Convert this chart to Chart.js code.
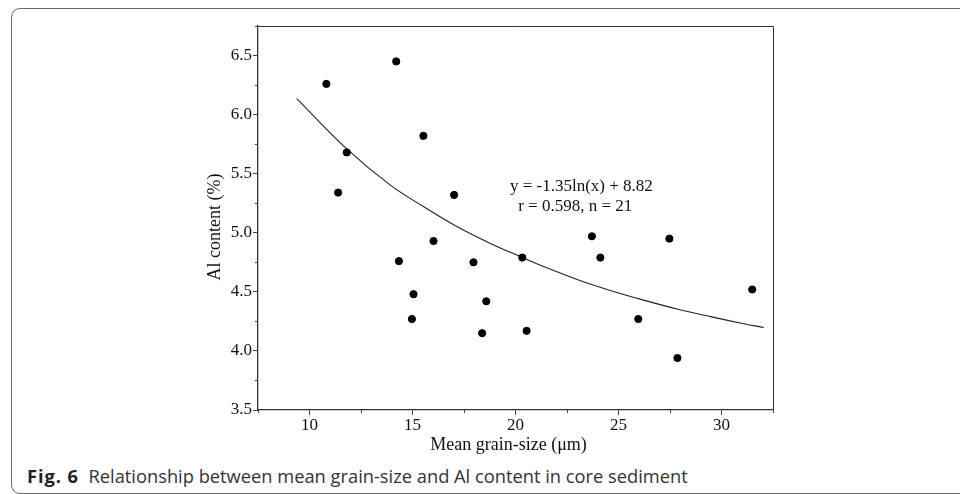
<!DOCTYPE html>
<html>
<head>
<meta charset="utf-8">
<script src="https://cdn.jsdelivr.net/npm/chart.js@4"></script>
<style>
  html, body { margin: 0; padding: 0; background: #fff; }
  body { width: 960px; height: 494px; position: relative; overflow: hidden; }
  #frame {
    position: absolute; left: 11px; top: 8px; width: 1000px; height: 486px;
    border: 1.5px solid #6a6a6a; border-radius: 9px; box-sizing: border-box;
  }
  #wrap { position: absolute; left: 180px; top: 0; width: 780px; height: 460px; }
  #caption {
    position: absolute; left: 27px; top: 463px; white-space: nowrap;
    font-family: "Open Sans", sans-serif; font-size: 18.3px; color: #333;
  }
  #caption b { color: #222; letter-spacing: 0.9px; margin-right: 5px; }
</style>
</head>
<body>
<div id="frame"></div>
<div id="wrap"><canvas id="al-graph"></canvas></div>
<div id="caption"><b>Fig. 6</b> Relationship between mean grain-size and Al content in core sediment</div>
<script>
const grainSize = [10.82, 14.21, 11.81, 11.39, 15.53, 17.02, 16.02, 14.34, 17.96, 15.05, 14.97, 18.38, 18.58, 20.33, 20.54, 24.12, 25.96, 27.86, 31.49, 27.47, 23.71];
const alContent = [6.26, 6.45, 5.68, 5.34, 5.82, 5.32, 4.93, 4.76, 4.75, 4.48, 4.27, 4.15, 4.42, 4.79, 4.17, 4.79, 4.27, 3.94, 4.52, 4.95, 4.97];

// fitted curve
const fitX = [9.38, 11.81, 13.91, 15.53, 17.15, 18.78, 20.39, 21.36, 22.99, 24.60, 26.22, 27.84, 29.46, 31.08, 32.05];
const fitY = [6.136, 5.71, 5.405, 5.222, 5.053, 4.91, 4.787, 4.715, 4.605, 4.512, 4.43, 4.355, 4.29, 4.23, 4.198];

const xTicks = [10, 15, 20, 25, 30];
const xMinor = [7.5, 12.5, 17.5, 22.5, 27.5, 32.5];
const yTicks = [3.5, 4.0, 4.5, 5.0, 5.5, 6.0, 6.5];
const yMinor = [3.75, 4.25, 4.75, 5.25, 5.75, 6.25, 6.75];

const xTitle = 'Mean grain-size (μm)';
const yTitle = 'Al content (%)';
const equationLines = ['y = -1.35ln(x) + 8.82', 'r = 0.598, n = 21'];
const equationX = [23.2, 22.9];
const equationY = [5.395, 5.225];

const serif = '"Liberation Serif", "Times New Roman", serif';

const toPoints = (xs, ys) => xs.map((x, i) => ({x: x, y: ys[i]}));

const extras = {
    id: 'extras',
    afterDraw(chart) {
        const ctx = chart.ctx;
        const area = chart.chartArea;
        const xs = chart.scales.x;
        const ys = chart.scales.y;
        ctx.save();
        // top / right frame
        ctx.strokeStyle = '#333';
        ctx.lineWidth = 1;
        ctx.beginPath();
        ctx.moveTo(area.left, area.top + 0.5);
        ctx.lineTo(area.right + 0.5, area.top + 0.5);
        ctx.lineTo(area.right + 0.5, area.bottom);
        ctx.stroke();
        // minor ticks
        ctx.strokeStyle = '#444';
        ctx.beginPath();
        xMinor.forEach(v => {
            const px = Math.round(xs.getPixelForValue(v)) + 0.5;
            ctx.moveTo(px, area.bottom);
            ctx.lineTo(px, area.bottom + 3);
        });
        yMinor.forEach(v => {
            const py = Math.round(ys.getPixelForValue(v)) + 0.5;
            ctx.moveTo(area.left, py);
            ctx.lineTo(area.left - 3, py);
        });
        ctx.stroke();
        ctx.fillStyle = '#111';
        ctx.textAlign = 'center';
        ctx.textBaseline = 'middle';
        // equation text
        ctx.font = '17px ' + serif;
        equationLines.forEach((t, i) => {
            ctx.fillText(t, xs.getPixelForValue(equationX[i]), ys.getPixelForValue(equationY[i]));
        });
        // axis titles
        ctx.font = '18px ' + serif;
        ctx.fillText(xTitle, (area.left + area.right) / 2 - 7, area.bottom + 35);
        ctx.translate(area.left - 43, (area.top + area.bottom) / 2 + 9);
        ctx.rotate(-Math.PI / 2);
        ctx.fillText(yTitle, 0, 0);
        ctx.restore();
    }
};

const alChart = new Chart(document.getElementById('al-graph'), {
    type: 'scatter',
    data: {
        datasets: [{
            data: toPoints(grainSize, alContent),
            backgroundColor: '#000',
            borderColor: '#000',
            pointRadius: 3.6,
            pointHoverRadius: 3.6,
        }, {
            type: 'line',
            data: toPoints(fitX, fitY),
            borderColor: '#222',
            borderWidth: 1.1,
            pointRadius: 0,
            fill: false,
            tension: 0.4,
        }]
    },
    options: {
        responsive: true,
        maintainAspectRatio: false,
        animation: false,
        events: [],
        layout: { padding: { top: 26, right: 187, left: 0, bottom: 0 } },
        plugins: { legend: { display: false }, tooltip: { enabled: false } },
        scales: {
            x: {
                type: 'linear',
                min: 7.5,
                max: 32.5,
                afterBuildTicks: scale => { scale.ticks = xTicks.map(v => ({value: v})); },
                afterFit: scale => { scale.height = 50; },
                grid: { drawOnChartArea: false, tickLength: 5, tickColor: '#444', tickWidth: 1 },
                border: { color: '#333', width: 1.3 },
                ticks: { color: '#111', font: { family: serif, size: 17 }, padding: 0, maxRotation: 0 }
            },
            y: {
                min: 3.5,
                max: 6.75,
                afterBuildTicks: scale => { scale.ticks = yTicks.map(v => ({value: v})); },
                afterFit: scale => { scale.width = 78; },
                grid: { drawOnChartArea: false, tickLength: 5, tickColor: '#444', tickWidth: 1 },
                border: { color: '#333', width: 1.3 },
                ticks: {
                    color: '#111',
                    font: { family: serif, size: 17 },
                    padding: 1,
                    callback: v => v.toFixed(1)
                }
            }
        }
    },
    plugins: [extras]
});
</script>
</body>
</html>
